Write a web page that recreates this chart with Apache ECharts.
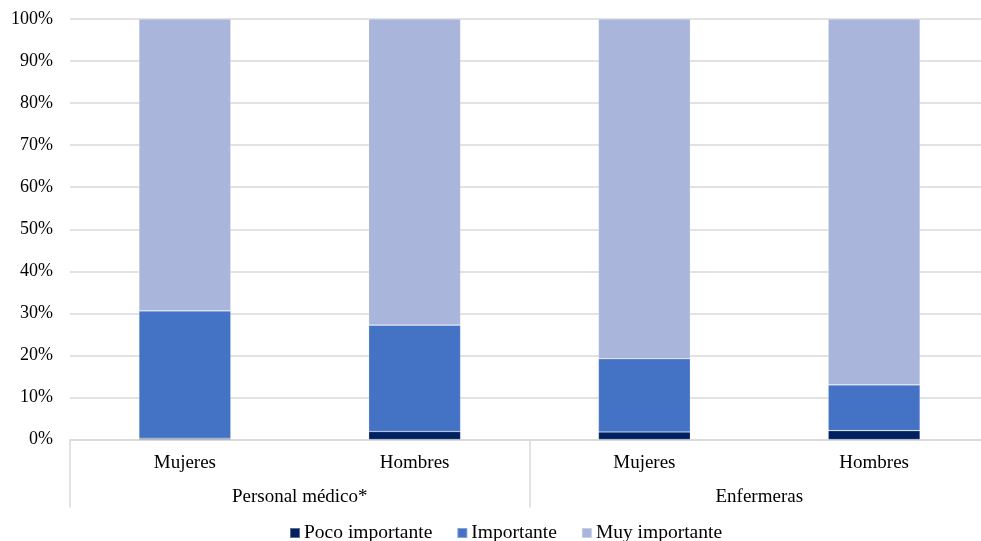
<!DOCTYPE html>
<html>
<head>
<meta charset="utf-8">
<script src="https://cdn.jsdelivr.net/npm/echarts@6/dist/echarts.min.js"></script>
<style>
  html, body { margin: 0; padding: 0; background: #fff; }
  #chart { width: 981px; height: 541px; }
</style>
</head>
<body>
<div id="chart"></div>
<script>
// Categories: sex within each staff group
const categories = ['Mujeres', 'Hombres', 'Mujeres', 'Hombres'];
const groups = ['Personal médico*', 'Enfermeras'];
const yTicks = [0, 10, 20, 30, 40, 50, 60, 70, 80, 90, 100];

// Share of responses (%) per category
const pocoImportante = [0.3, 1.9, 1.8, 2.1];
const importante     = [30.3, 25.3, 17.4, 10.9];
const muyImportante  = [69.4, 72.8, 80.8, 87.0];

const FONT = '"Liberation Serif", "Times New Roman", serif';
const GRID_COLOR = '#d9d9d9';

const chart = echarts.init(document.getElementById('chart'), null, { renderer: 'canvas' });

function barSeries(name, data, color) {
  return {
    name: name,
    type: 'bar',
    stack: 'total',
    barWidth: '40%',
    data: data,
    itemStyle: { color: color, borderColor: 'rgba(255,255,255,0.35)', borderWidth: 0.6 },
    emphasis: { disabled: true }
  };
}

chart.setOption({
  animation: false,
  textStyle: { fontFamily: FONT },
  grid: { left: 70, top: 19, right: -8, height: 420.5, containLabel: false, outerBoundsMode: 'none' },
  legend: {
    top: 518,
    left: 284,
    itemWidth: 10,
    itemHeight: 10,
    itemGap: 24,
    icon: 'rect',
    textStyle: { fontFamily: FONT, fontSize: 19.5, color: '#000', padding: [0, 0, 0, -1] },
    data: ['Poco importante', 'Importante', 'Muy importante']
  },
  xAxis: [
    {
      type: 'category',
      data: categories,
      position: 'bottom',
      axisLine: { show: true, lineStyle: { color: GRID_COLOR, width: 1.5 } },
      axisTick: { show: false },
      axisLabel: { fontFamily: FONT, fontSize: 19, color: '#000', margin: 14 }
    },
    {
      type: 'category',
      data: groups,
      position: 'bottom',
      axisLine: { show: false },
      axisTick: { show: true, length: 68, inside: false, lineStyle: { color: GRID_COLOR, width: 1.5 } },
      axisLabel: { fontFamily: FONT, fontSize: 19, color: '#000', margin: 48 }
    }
  ],
  yAxis: {
    type: 'value',
    min: yTicks[0],
    max: yTicks[yTicks.length - 1],
    interval: 10,
    axisLine: { show: false },
    axisTick: { show: false },
    splitLine: { lineStyle: { color: GRID_COLOR, width: 1.5 } },
    axisLabel: { fontFamily: FONT, fontSize: 18, color: '#000', margin: 17, formatter: '{value}%' }
  },
  series: [
    barSeries('Poco importante', pocoImportante, '#002060'),
    barSeries('Importante', importante, '#4472C4'),
    barSeries('Muy importante', muyImportante, '#A9B5DA')
  ]
});
</script>
</body>
</html>
